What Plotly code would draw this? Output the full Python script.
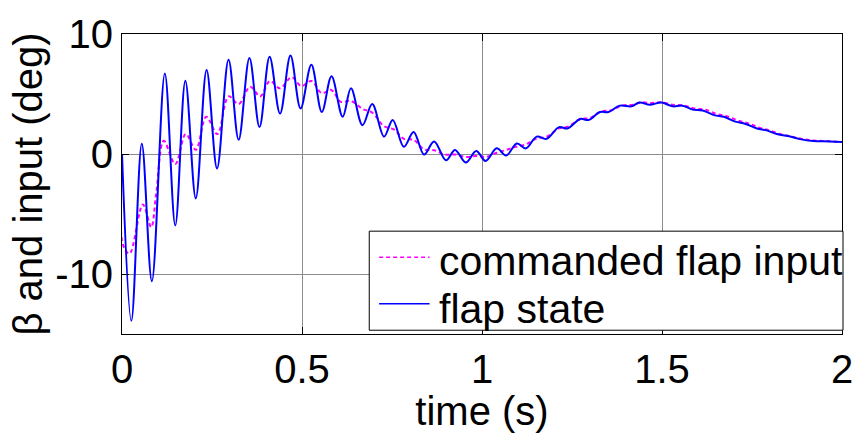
import plotly.graph_objects as go

# commanded flap input (deg) vs time (s)
cmd_t = [0.000, 0.003, 0.021, 0.058, 0.081, 0.095, 0.116, 0.148, 0.177, 0.205,
         0.234, 0.265, 0.296, 0.324, 0.356, 0.384, 0.411, 0.439, 0.471, 0.498,
         0.526, 0.555, 0.581, 0.608, 0.636, 0.668, 0.695, 0.728, 0.755, 0.783,
         0.810, 0.839, 0.867, 0.897, 0.925, 0.957, 0.984, 1.012, 1.039, 1.067,
         1.094, 1.122, 1.150, 1.180, 1.214, 1.240, 1.273, 1.300, 1.330, 1.360,
         1.390, 1.420, 1.440, 1.470, 1.500, 1.530, 1.560, 1.590, 1.620, 1.650,
         1.680, 1.710, 1.740, 1.770, 1.800, 1.830, 1.860, 1.890, 1.920, 1.960,
         2.000]
cmd_v = [-0.5, -7.6, -8.3, -4.2, -6.1, -3.3, 1.1, -0.84, 1.66, 0.36,
         3.1, 1.66, 4.8, 4.16, 5.6, 4.8, 6.08, 5.47, 6.4, 5.66,
         6.08, 5.07, 5.34, 4.34, 4.42, 3.76, 3.45, 2.31, 2.05, 1.26,
         1.18, 0.39, 0.31, -0.05, -0.05, -0.24, -0.16, -0.24, 0.08, 0.34,
         0.6, 0.8, 1.26, 1.45, 2.13, 2.3, 2.92, 3.0, 3.55, 3.65,
         4.05, 4.1, 4.3, 4.25, 4.3, 4.1, 4.05, 3.8, 3.7, 3.35,
         3.15, 2.8, 2.55, 2.2, 1.95, 1.65, 1.45, 1.25, 1.12, 1.08,
         1.0]

# flap state (deg) vs time (s)
flap_t = [0.000, 0.026, 0.055, 0.083, 0.119, 0.148, 0.176, 0.205, 0.235, 0.264,
          0.296, 0.324, 0.354, 0.382, 0.410, 0.439, 0.468, 0.496, 0.526, 0.555,
          0.582, 0.613, 0.636, 0.668, 0.695, 0.728, 0.752, 0.783, 0.810, 0.839,
          0.867, 0.900, 0.925, 0.955, 0.984, 1.010, 1.041, 1.067, 1.097, 1.122,
          1.152, 1.179, 1.214, 1.237, 1.273, 1.296, 1.328, 1.351, 1.383, 1.415,
          1.438, 1.466, 1.498, 1.530, 1.557, 1.585, 1.613, 1.645, 1.672, 1.704,
          1.732, 1.764, 1.791, 1.819, 1.856, 1.883, 1.920, 1.966, 2.000]
flap_v = [0.0, -13.9, 0.85, -10.6, 6.7, -5.95, 6.1, -3.7, 7.0, -1.2,
          7.85, 1.18, 8.0, 2.24, 8.1, 3.37, 8.2, 3.8, 7.44, 3.5,
          6.47, 3.1, 5.47, 2.4, 4.16, 1.45, 2.84, 0.6, 1.84, -0.05,
          1.05, -0.53, 0.34, -0.71, 0.26, -0.58, 0.47, -0.13, 0.87, 0.47,
          1.45, 1.26, 2.24, 2.13, 2.92, 2.84, 3.5, 3.5, 4.03, 3.97,
          4.29, 4.1, 4.29, 3.97, 4.03, 3.7, 3.63, 3.24, 3.1, 2.7,
          2.5, 2.13, 1.97, 1.66, 1.45, 1.24, 1.08, 1.05, 1.0]

series_names = ["commanded flap input", "flap state"]
series_colors = ["#ff00ff", "#0000ff"]
series_dash = ["4px,3px", "solid"]

x_ticks = [0, 0.5, 1, 1.5, 2]
x_tick_text = ["0", "0.5", "1", "1.5", "2"]
y_ticks = [-10, 0, 10]
y_tick_text = ["-10", "0", "10"]

FONT = "Liberation Sans, Arial, sans-serif"

fig = go.Figure()
for (t, v), name, color, dash in zip([(cmd_t, cmd_v), (flap_t, flap_v)],
                                     series_names, series_colors, series_dash):
    fig.add_trace(go.Scatter(
        x=t, y=v, mode="lines", name=name, showlegend=False,
        line=dict(color=color, width=2, dash=dash, shape="spline", smoothing=1),
    ))

axis_common = dict(
    showline=True, linecolor="black", linewidth=1, mirror="ticks",
    ticks="inside", ticklen=7, tickcolor="black", tickwidth=1,
    showgrid=True, gridcolor="#8c8c8c", gridwidth=1,
    zeroline=False,
    tickfont=dict(family=FONT, size=40, color="black"),
    title_font=dict(family=FONT, size=40, color="black"),
)

fig.update_xaxes(
    range=[0, 2], tickvals=x_ticks, ticktext=x_tick_text,
    title_text="time (s)", title_standoff=2, **axis_common,
)
fig.update_yaxes(
    range=[-15, 10], tickvals=y_ticks, ticktext=y_tick_text,
    title_text="β and input (deg)", title_standoff=0, **axis_common,
)

# Legend box in the lower right corner of the axes (paper = plot-area fractions)
box_x0, box_x1, box_y0, box_y1 = 0.3434, 1.0014, 0.0126, 0.3428
row_y = [0.2557, 0.1006]
text_y = [0.2450, 0.0830]
sample_x0, sample_x1, text_x = 0.3571, 0.4272, 0.4370

shapes = [dict(type="rect", xref="paper", yref="paper",
               x0=box_x0, x1=box_x1, y0=box_y0, y1=box_y1,
               line=dict(color="black", width=1), fillcolor="white", layer="above")]
annotations = []
for name, color, dash, ry, ty in zip(series_names, series_colors, series_dash, row_y, text_y):
    shapes.append(dict(type="line", xref="paper", yref="paper",
                       x0=sample_x0, x1=sample_x1, y0=ry, y1=ry, layer="above",
                       line=dict(color=color, width=1.5, dash=dash)))
    annotations.append(dict(xref="paper", yref="paper", x=text_x, y=ty,
                            xanchor="left", yanchor="middle", showarrow=False,
                            text=name, font=dict(family=FONT, size=41, color="black")))

fig.update_layout(
    width=865, height=433,
    margin=dict(l=122, r=15, t=24, b=91),
    paper_bgcolor="white", plot_bgcolor="white",
    showlegend=False,
    shapes=shapes, annotations=annotations,
)

fig.write_html("out.html")
